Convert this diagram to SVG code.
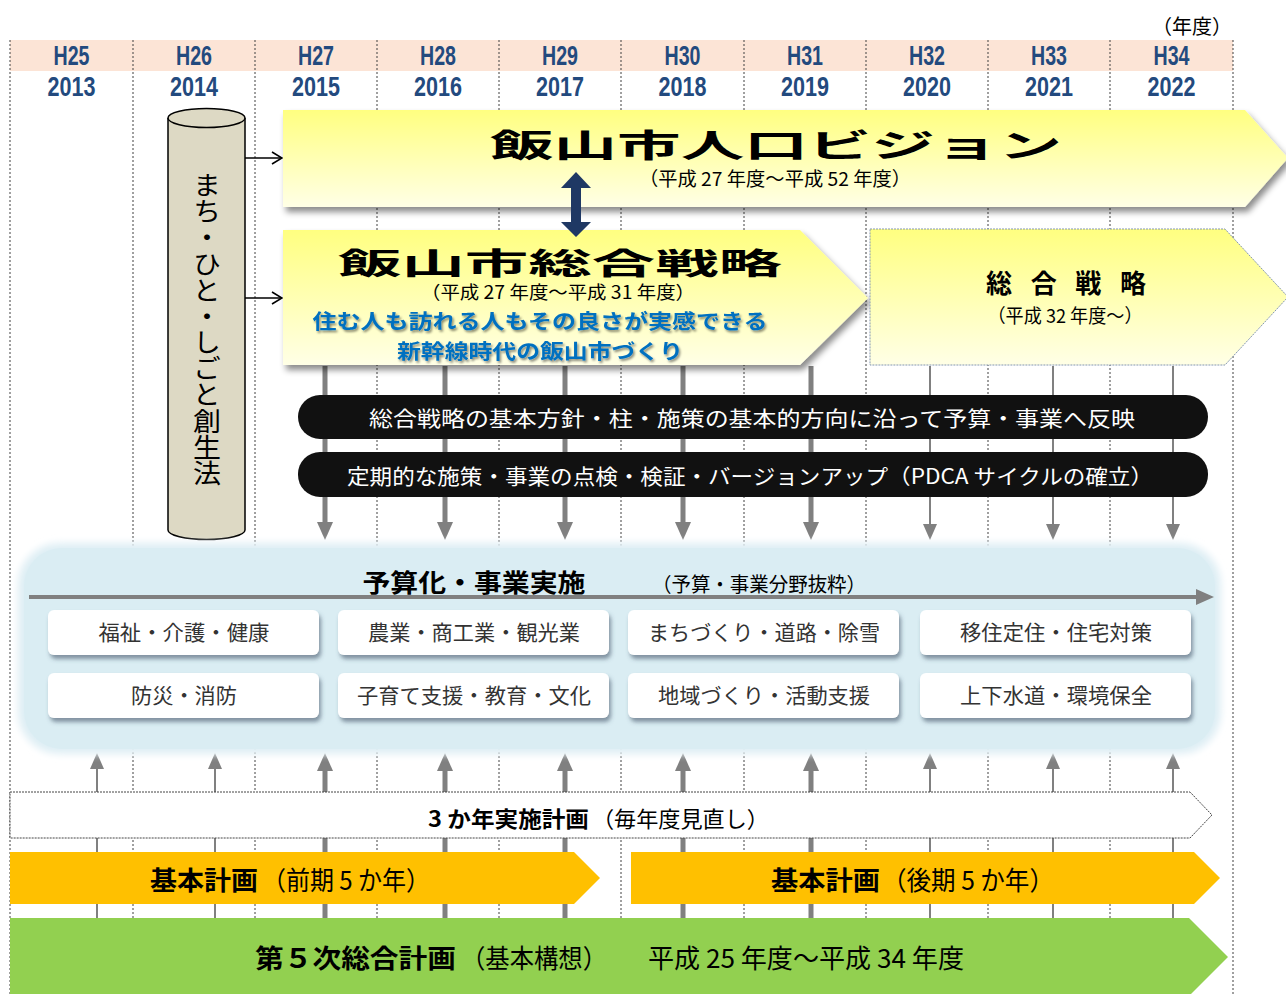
<svg xmlns="http://www.w3.org/2000/svg" width="1286" height="994" viewBox="0 0 1286 994">
<defs>
<style>
.jp{font-family:"Noto Sans CJK JP","Liberation Sans",sans-serif;}
.hd{font-family:"Liberation Sans","Noto Sans CJK JP",sans-serif;font-weight:bold;fill:#234a7e;font-size:27px;text-anchor:middle;}
.grid{stroke:#404040;stroke-width:1;stroke-dasharray:2 2;}
.thick{stroke:#808080;stroke-width:5;fill:none;}
.thin{stroke:#808080;stroke-width:2;fill:none;}
.box{fill:#fff;filter:url(#sh2);}
.boxt{font-size:21px;fill:#333;text-anchor:middle;}
.wt{fill:#fff;font-size:21px;text-anchor:middle;}
.bar{fill:#111;}
.b{font-weight:bold;}
.bt{font-size:26px;fill:#000;}
</style>
<linearGradient id="yel" x1="0" y1="0" x2="0" y2="1">
<stop offset="0" stop-color="#ffff80"/>
<stop offset="1" stop-color="#ffffe6"/>
</linearGradient>
<filter id="sh" x="-5%" y="-20%" width="115%" height="150%">
<feDropShadow dx="3" dy="5" stdDeviation="3" flood-color="#000" flood-opacity="0.45"/>
</filter>
<filter id="sh2" x="-5%" y="-20%" width="115%" height="160%">
<feDropShadow dx="2" dy="4" stdDeviation="2" flood-color="#44546a" flood-opacity="0.6"/>
</filter>
<filter id="tsh" x="-5%" y="-20%" width="115%" height="160%">
<feDropShadow dx="1.5" dy="2" stdDeviation="1.2" flood-color="#000" flood-opacity="0.45"/>
</filter>
<filter id="glow" x="-5%" y="-10%" width="110%" height="120%">
<feGaussianBlur stdDeviation="3"/>
</filter>
<marker id="tri" viewBox="0 0 18 16" markerWidth="18" markerHeight="16" refX="0" refY="8" orient="auto" markerUnits="userSpaceOnUse">
<path d="M0,0 L18,8 L0,16 z" fill="#808080"/>
</marker>
<marker id="tris" viewBox="0 0 16 14" markerWidth="16" markerHeight="14" refX="0" refY="7" orient="auto" markerUnits="userSpaceOnUse">
<path d="M0,0 L16,7 L0,14 z" fill="#808080"/>
</marker>
<marker id="open" viewBox="0 0 12 14" markerWidth="12" markerHeight="14" refX="11" refY="7" orient="auto" markerUnits="userSpaceOnUse">
<path d="M1,1 L11,7 L1,13" fill="none" stroke="#000" stroke-width="1.6"/>
</marker>
</defs>

<rect x="0" y="0" width="1286" height="994" fill="#fff"/>

<g id="header">
<rect x="10" y="40" width="1223" height="31" fill="#fce4d6"/>
<text class="jp" x="1192" y="34" font-size="20" text-anchor="middle" fill="#000">（年度）</text>
<g class="hd">
<text x="71.5" y="65" textLength="36" lengthAdjust="spacingAndGlyphs">H25</text>
<text x="194" y="65" textLength="36" lengthAdjust="spacingAndGlyphs">H26</text>
<text x="316" y="65" textLength="36" lengthAdjust="spacingAndGlyphs">H27</text>
<text x="438" y="65" textLength="36" lengthAdjust="spacingAndGlyphs">H28</text>
<text x="560" y="65" textLength="36" lengthAdjust="spacingAndGlyphs">H29</text>
<text x="682.5" y="65" textLength="36" lengthAdjust="spacingAndGlyphs">H30</text>
<text x="805" y="65" textLength="36" lengthAdjust="spacingAndGlyphs">H31</text>
<text x="927" y="65" textLength="36" lengthAdjust="spacingAndGlyphs">H32</text>
<text x="1049" y="65" textLength="36" lengthAdjust="spacingAndGlyphs">H33</text>
<text x="1171.5" y="65" textLength="36" lengthAdjust="spacingAndGlyphs">H34</text>
<text x="71.5" y="96" textLength="48" lengthAdjust="spacingAndGlyphs">2013</text>
<text x="194" y="96" textLength="48" lengthAdjust="spacingAndGlyphs">2014</text>
<text x="316" y="96" textLength="48" lengthAdjust="spacingAndGlyphs">2015</text>
<text x="438" y="96" textLength="48" lengthAdjust="spacingAndGlyphs">2016</text>
<text x="560" y="96" textLength="48" lengthAdjust="spacingAndGlyphs">2017</text>
<text x="682.5" y="96" textLength="48" lengthAdjust="spacingAndGlyphs">2018</text>
<text x="805" y="96" textLength="48" lengthAdjust="spacingAndGlyphs">2019</text>
<text x="927" y="96" textLength="48" lengthAdjust="spacingAndGlyphs">2020</text>
<text x="1049" y="96" textLength="48" lengthAdjust="spacingAndGlyphs">2021</text>
<text x="1171.5" y="96" textLength="48" lengthAdjust="spacingAndGlyphs">2022</text>
</g>
</g>

<g id="grid" class="grid">
<line x1="10" y1="40" x2="10" y2="994"/>
<line x1="133" y1="40" x2="133" y2="994"/>
<line x1="255" y1="40" x2="255" y2="994"/>
<line x1="377" y1="40" x2="377" y2="994"/>
<line x1="499" y1="40" x2="499" y2="994"/>
<line x1="621" y1="40" x2="621" y2="994"/>
<line x1="744" y1="40" x2="744" y2="994"/>
<line x1="866" y1="40" x2="866" y2="994"/>
<line x1="988" y1="40" x2="988" y2="994"/>
<line x1="1110" y1="40" x2="1110" y2="994"/>
<line x1="1233" y1="40" x2="1233" y2="994"/>
</g>

<g id="connectors">
<line x1="245" y1="158" x2="282" y2="158" stroke="#000" stroke-width="1.6" marker-end="url(#open)"/>
<line x1="245" y1="298" x2="282" y2="298" stroke="#000" stroke-width="1.6" marker-end="url(#open)"/>
<line class="thick" x1="325" y1="366" x2="325" y2="522" marker-end="url(#tri)"/>
<line class="thick" x1="445" y1="366" x2="445" y2="522" marker-end="url(#tri)"/>
<line class="thick" x1="565" y1="366" x2="565" y2="522" marker-end="url(#tri)"/>
<line class="thick" x1="683" y1="366" x2="683" y2="522" marker-end="url(#tri)"/>
<line class="thick" x1="811" y1="366" x2="811" y2="522" marker-end="url(#tri)"/>
<line class="thin" x1="930" y1="366" x2="930" y2="524" marker-end="url(#tris)"/>
<line class="thin" x1="1053" y1="366" x2="1053" y2="524" marker-end="url(#tris)"/>
<line class="thin" x1="1173" y1="366" x2="1173" y2="524" marker-end="url(#tris)"/>
<line class="thin" x1="97" y1="918" x2="97" y2="769" marker-end="url(#tris)"/>
<line class="thin" x1="215" y1="918" x2="215" y2="769" marker-end="url(#tris)"/>
<line class="thick" x1="325" y1="918" x2="325" y2="771" marker-end="url(#tri)"/>
<line class="thick" x1="445" y1="918" x2="445" y2="771" marker-end="url(#tri)"/>
<line class="thick" x1="565" y1="918" x2="565" y2="771" marker-end="url(#tri)"/>
<line class="thick" x1="683" y1="918" x2="683" y2="771" marker-end="url(#tri)"/>
<line class="thick" x1="811" y1="918" x2="811" y2="771" marker-end="url(#tri)"/>
<line class="thin" x1="930" y1="918" x2="930" y2="769" marker-end="url(#tris)"/>
<line class="thin" x1="1053" y1="918" x2="1053" y2="769" marker-end="url(#tris)"/>
<line class="thin" x1="1173" y1="918" x2="1173" y2="769" marker-end="url(#tris)"/>
</g>

<g id="law">
<path d="M168,118 L168,530 A38.5,9.5 0 0 0 245,530 L245,118" fill="#ddd9c4" stroke="#000" stroke-width="1.5"/>
<ellipse cx="206.5" cy="118" rx="38.5" ry="9.5" fill="#ddd9c4" stroke="#000" stroke-width="1.5"/>
<text class="jp" x="207" y="172" font-size="28" writing-mode="vertical-rl" textLength="314" lengthAdjust="spacingAndGlyphs" fill="#000">まち・ひと・しごと創生法</text>
</g>

<g id="vision">
<polygon points="283,110 1245,110 1288,158 1245,207 283,207" fill="url(#yel)" filter="url(#sh)"/>
<text class="jp b" x="490" y="157" font-size="32" textLength="572" lengthAdjust="spacingAndGlyphs" fill="#000">飯山市人口ビジョン</text>
<text class="jp" x="775" y="186" font-size="19" text-anchor="middle" textLength="272" lengthAdjust="spacingAndGlyphs" fill="#000">（平成 27 年度～平成 52 年度）</text>
</g>

<g id="strategy">
<polygon points="283,230 800,230 868,298 800,365 283,365" fill="url(#yel)" filter="url(#sh)"/>
<text class="jp b" x="338" y="274" font-size="30" textLength="444" lengthAdjust="spacingAndGlyphs" fill="#000">飯山市総合戦略</text>
<text class="jp" x="558" y="299" font-size="18" text-anchor="middle" textLength="274" lengthAdjust="spacingAndGlyphs" fill="#000">（平成 27 年度～平成 31 年度）</text>
<g filter="url(#tsh)">
<text class="jp b" x="540" y="329" font-size="20.5" text-anchor="middle" textLength="455" lengthAdjust="spacingAndGlyphs" fill="#0070c0">住む人も訪れる人もその良さが実感できる</text>
<text class="jp b" x="540" y="359" font-size="20.5" text-anchor="middle" textLength="286" lengthAdjust="spacingAndGlyphs" fill="#0070c0">新幹線時代の飯山市づくり</text>
</g>
</g>

<g id="strategy-next">
<polygon points="870,229 1225,229 1288,297 1225,365 870,365" fill="url(#yel)" stroke="#8497b0" stroke-width="1" stroke-dasharray="2 1"/>
<text class="jp b" x="1066" y="293" font-size="26" text-anchor="middle" textLength="160" lengthAdjust="spacing" fill="#000">総合戦略</text>
<text class="jp" x="1065" y="323" font-size="19" text-anchor="middle" textLength="155" lengthAdjust="spacingAndGlyphs" fill="#000">（平成 32 年度～）</text>
</g>

<g id="link-vision-strategy">
<polygon points="576,172 591,188 581,188 581,222 591,222 576,237 561,222 571,222 571,188 561,188" fill="#1f3864"/>
</g>

<g id="policy-bar">
<rect class="bar" x="298" y="395" width="910" height="44" rx="22"/>
<text class="jp wt" x="752" y="426" textLength="766" lengthAdjust="spacingAndGlyphs">総合戦略の基本方針・柱・施策の基本的方向に沿って予算・事業へ反映</text>
</g>
<g id="pdca-bar">
<rect class="bar" x="298" y="452" width="910" height="45" rx="22"/>
<text class="jp wt" x="750" y="484" textLength="806" lengthAdjust="spacingAndGlyphs">定期的な施策・事業の点検・検証・バージョンアップ（PDCA サイクルの確立）</text>
</g>

<g id="budget">
<rect x="20" y="545" width="1199" height="207" rx="40" fill="#daedf3" stroke="#e6f2f7" stroke-width="6" filter="url(#glow)"/>
<rect x="24" y="548" width="1191" height="201" rx="38" fill="#daedf3"/>
<text class="jp b" x="474" y="592" font-size="25" text-anchor="middle" textLength="223" lengthAdjust="spacingAndGlyphs" fill="#000">予算化・事業実施</text>
<text class="jp" x="652" y="592" font-size="20" textLength="214" lengthAdjust="spacingAndGlyphs" fill="#000">（予算・事業分野抜粋）</text>
<line x1="29" y1="597" x2="1197" y2="597" stroke="#808080" stroke-width="4"/>
<path d="M1196,589 L1214,597 L1196,605 z" fill="#808080"/>
</g>

<g id="box-welfare"><rect class="box" x="48" y="610" width="271" height="45" rx="6"/><text class="jp boxt" x="184" y="640" textLength="171" lengthAdjust="spacingAndGlyphs">福祉・介護・健康</text></g>
<g id="box-industry"><rect class="box" x="338" y="610" width="271" height="45" rx="6"/><text class="jp boxt" x="474" y="640" textLength="212" lengthAdjust="spacingAndGlyphs">農業・商工業・観光業</text></g>
<g id="box-town"><rect class="box" x="628" y="610" width="271" height="45" rx="6"/><text class="jp boxt" x="764" y="640" textLength="232" lengthAdjust="spacingAndGlyphs">まちづくり・道路・除雪</text></g>
<g id="box-housing"><rect class="box" x="920" y="610" width="271" height="45" rx="6"/><text class="jp boxt" x="1056" y="640" textLength="192" lengthAdjust="spacingAndGlyphs">移住定住・住宅対策</text></g>
<g id="box-disaster"><rect class="box" x="48" y="673" width="271" height="45" rx="6"/><text class="jp boxt" x="184" y="703" textLength="106" lengthAdjust="spacingAndGlyphs">防災・消防</text></g>
<g id="box-child"><rect class="box" x="338" y="673" width="271" height="45" rx="6"/><text class="jp boxt" x="474" y="703" textLength="234" lengthAdjust="spacingAndGlyphs">子育て支援・教育・文化</text></g>
<g id="box-community"><rect class="box" x="628" y="673" width="271" height="45" rx="6"/><text class="jp boxt" x="764" y="703" textLength="212" lengthAdjust="spacingAndGlyphs">地域づくり・活動支援</text></g>
<g id="box-water"><rect class="box" x="920" y="673" width="271" height="45" rx="6"/><text class="jp boxt" x="1056" y="703" textLength="192" lengthAdjust="spacingAndGlyphs">上下水道・環境保全</text></g>

<g id="plan3">
<polygon points="10,792 1190,792 1212,815 1190,838 10,838" fill="#fff" stroke="#444" stroke-width="1" stroke-dasharray="2 1"/>
<text class="jp b" x="428" y="827" font-size="22" textLength="161" lengthAdjust="spacingAndGlyphs" fill="#000">3 か年実施計画</text>
<text class="jp" x="592" y="827" font-size="22" textLength="177" lengthAdjust="spacingAndGlyphs" fill="#000">（毎年度見直し）</text>
</g>

<g id="basic-early">
<polygon points="10,852 574,852 600,878 574,904 10,904" fill="#ffc000"/>
<text class="jp b bt" x="150" y="890" textLength="108" lengthAdjust="spacingAndGlyphs">基本計画</text>
<text class="jp bt" x="262" y="890" textLength="168" lengthAdjust="spacingAndGlyphs">（前期 5 か年）</text>
</g>
<g id="basic-late">
<polygon points="631,852 1194,852 1220,878 1194,904 631,904" fill="#ffc000"/>
<text class="jp b bt" x="771" y="890" textLength="109" lengthAdjust="spacingAndGlyphs">基本計画</text>
<text class="jp bt" x="882" y="890" textLength="172" lengthAdjust="spacingAndGlyphs">（後期 5 か年）</text>
</g>

<g id="master">
<polygon points="10,918 1189,918 1228,957 1189,996 10,996" fill="#92d050"/>
<text class="jp b bt" x="255" y="968" textLength="201" lengthAdjust="spacingAndGlyphs">第５次総合計画</text>
<text class="jp bt" x="461" y="968" textLength="146" lengthAdjust="spacingAndGlyphs">（基本構想）</text>
<text class="jp bt" x="648" y="968" textLength="316" lengthAdjust="spacingAndGlyphs">平成 25 年度～平成 34 年度</text>
</g>
</svg>
